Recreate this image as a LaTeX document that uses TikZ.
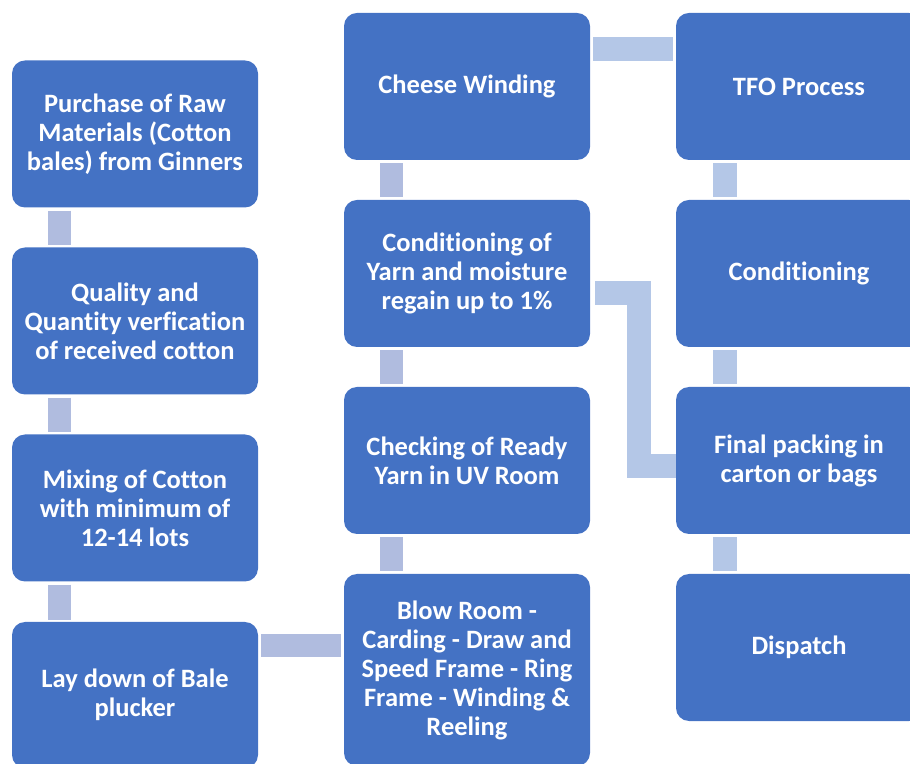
\documentclass[tikz,border=0pt]{standalone}
\usepackage{fontspec}
\setmainfont{Carlito}[Ligatures=NoCommon]
\usepackage{tikz}
\usetikzlibrary{shapes,calc}
\definecolor{boxblue}{HTML}{4472C4}
\definecolor{linkmauve}{HTML}{B0BCDF}
\definecolor{linkpale}{HTML}{B4C7E7}
\tikzstyle{block} = [fill=boxblue, rectangle, rounded corners=13pt, align=center, text=white, font=\fontsize{26.5}{29}\selectfont\bfseries, minimum width=246pt, minimum height=147pt, inner sep=0pt]
\tikzstyle{link} = [draw=linkmauve, line width=23pt]
\tikzstyle{linklight} = [draw=linkpale, line width=24pt, line join=miter]

\begin{document}
\begin{tikzpicture}[node distance=187pt]
        \useasboundingbox (0,0) rectangle (910pt,763pt);
        \node[block] (purchase) at (135pt,629pt) {Purchase of Raw\\Materials (Cotton\\bales) from Ginners};
        \node[block, below of=purchase] (quality) {Quality and\\Quantity verfication\\of received cotton};
        \node[block, below of=quality] (mixing) {Mixing of Cotton\\with minimum of\\12-14 lots};
        \node[block, below of=mixing, minimum height=146pt] (laydown) {Lay down of Bale\\plucker};
        \node[block] (cheese) at (467pt,676.5pt) {Cheese Winding};
        \node[block, below of=cheese] (condyarn) {Conditioning of\\Yarn and moisture\\regain up to 1\%};
        \node[block, below of=condyarn] (checking) {Checking of Ready\\Yarn in UV Room};
        \node[block, below of=checking, node distance=209.5pt, minimum height=192pt] (blowroom) {Blow Room -\\Carding - Draw and\\Speed Frame - Ring\\Frame - Winding \&\\Reeling};
        \node[block, right of=cheese, node distance=332pt] (tfo) {TFO Process};
        \node[block, below of=tfo] (conditioning) {Conditioning};
        \node[block, below of=conditioning] (finalpack) {Final packing in\\carton or bags};
        \node[block, below of=finalpack] (dispatch) {Dispatch};
        \path[link] ([xshift=48pt,yshift=-3pt]purchase.south west) -- ([xshift=48pt,yshift=2pt]quality.north west);
        \path[link] ([xshift=48pt,yshift=-3pt]quality.south west) -- ([xshift=48pt,yshift=2pt]mixing.north west);
        \path[link] ([xshift=48pt,yshift=-3pt]mixing.south west) -- ([xshift=48pt,yshift=2pt]laydown.north west);
        \path[link] ([xshift=3pt,yshift=49pt]laydown.east) -- ([xshift=-3pt,yshift=24pt]blowroom.west);
        \path[link] ([xshift=48pt,yshift=3pt]blowroom.north west) -- ([xshift=48pt,yshift=-3pt]checking.south west);
        \path[link] ([xshift=48pt,yshift=3pt]checking.north west) -- ([xshift=48pt,yshift=-3pt]condyarn.south west);
        \path[link] ([xshift=48pt,yshift=3pt]condyarn.north west) -- ([xshift=48pt,yshift=-3pt]cheese.south west);
        \path[linklight] ([xshift=3pt,yshift=37.5pt]cheese.east) -- ([xshift=-3pt,yshift=37.5pt]tfo.west);
        \path[linklight] ([xshift=49.5pt,yshift=-3pt]tfo.south west) -- ([xshift=49.5pt,yshift=3pt]conditioning.north west);
        \path[linklight] ([xshift=49.5pt,yshift=-3pt]conditioning.south west) -- ([xshift=49.5pt,yshift=3pt]finalpack.north west);
        \path[linklight] ([xshift=49.5pt,yshift=-3pt]finalpack.south west) -- ([xshift=49.5pt,yshift=3pt]dispatch.north west);
        \path[linklight] ([xshift=5pt,yshift=-19.5pt]condyarn.east) -- ++(44pt,0) |- ([yshift=-6pt]finalpack.west);
    \end{tikzpicture}
\end{document}
